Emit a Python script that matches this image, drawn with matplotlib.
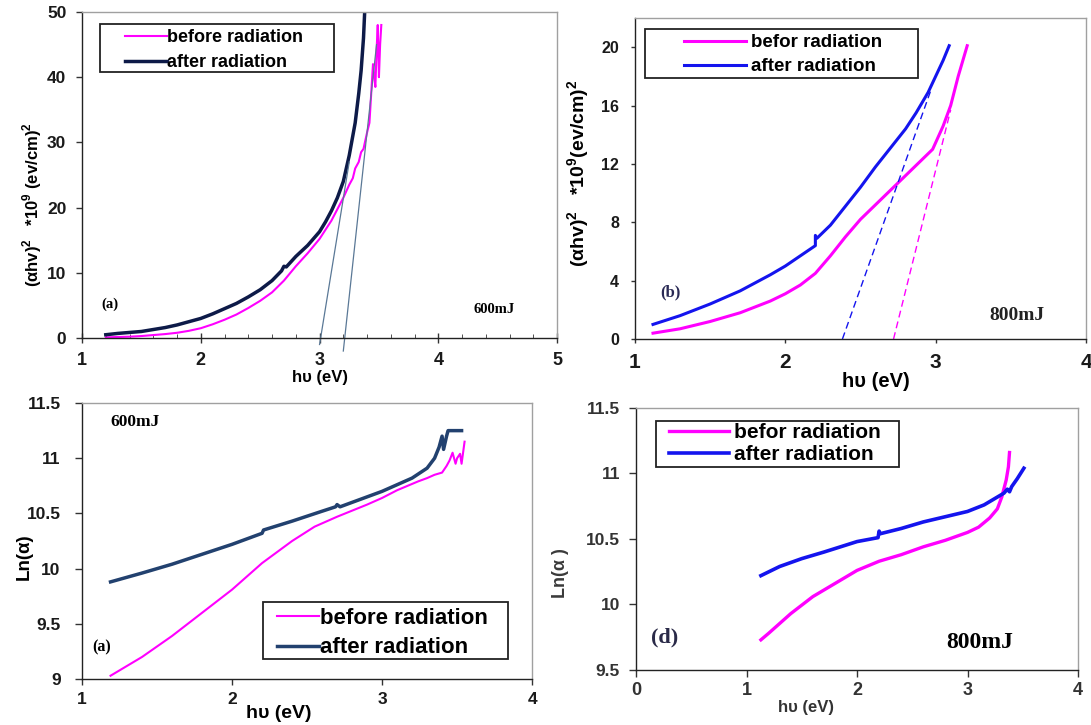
import matplotlib
matplotlib.use('Agg')
import matplotlib.pyplot as plt
from matplotlib.patches import Rectangle

plt.rcParams['font.family'] = ['Liberation Sans', 'DejaVu Sans']
plt.rcParams['mathtext.fontset'] = 'custom'
plt.rcParams['mathtext.rm'] = 'Liberation Sans'
plt.rcParams['mathtext.bf'] = 'Liberation Sans:bold'

# (a) (αhν)^2, 600 mJ
a_before_x = [1.2, 1.3, 1.4, 1.5, 1.6, 1.7, 1.8, 1.9, 2.0, 2.1, 2.2, 2.3, 2.4, 2.5, 2.6, 2.7,
              2.8, 2.9, 3.0, 3.1, 3.2, 3.25, 3.28, 3.3, 3.33, 3.35, 3.37, 3.4, 3.42, 3.43,
              3.45, 3.46, 3.47, 3.48, 3.49, 3.5, 3.51, 3.52]
a_before_y = [0.1, 0.15, 0.2, 0.3, 0.45, 0.6, 0.8, 1.1, 1.5, 2.1, 2.8, 3.6, 4.6, 5.7, 7.0, 8.8,
              11.0, 13.0, 15.2, 18.0, 21.5, 23.5, 24.5, 26.0, 27.0, 28.5, 29.0, 31.5, 33.0, 36.0,
              42.0, 40.0, 38.5, 44.0, 48.0, 40.0, 45.0, 48.0]
a_after_x = [1.2, 1.3, 1.4, 1.5, 1.6, 1.7, 1.8, 1.9, 2.0, 2.1, 2.2, 2.3, 2.4, 2.5, 2.6, 2.68,
             2.7, 2.72, 2.8, 2.9, 3.0, 3.05, 3.1, 3.15, 3.2, 3.25, 3.3, 3.33, 3.35, 3.37, 3.38]
a_after_y = [0.5, 0.7, 0.85, 1.0, 1.3, 1.6, 2.0, 2.5, 3.0, 3.7, 4.5, 5.3, 6.3, 7.4, 8.8, 10.3,
             11.0, 10.9, 12.5, 14.2, 16.3, 17.8, 19.5, 21.5, 24.0, 28.0, 33.0, 37.5, 41.0, 46.0, 50.0]
a_fit1_x = [3.0, 3.25]
a_fit1_y = [-1.0, 27.0]
a_fit2_x = [3.2, 3.48]
a_fit2_y = [-2.0, 45.0]

# (b) (αhν)^2, 800 mJ
b_before_x = [1.12, 1.3, 1.5, 1.7, 1.9, 2.0, 2.1, 2.2, 2.3, 2.4, 2.5, 2.6, 2.7, 2.8, 2.9, 2.98,
              3.05, 3.1, 3.15, 3.21]
b_before_y = [0.4, 0.7, 1.2, 1.8, 2.6, 3.1, 3.7, 4.5, 5.7, 7.0, 8.2, 9.2, 10.2, 11.2, 12.2, 13.0,
              14.6, 16.0, 18.0, 20.1]
b_after_x = [1.12, 1.3, 1.5, 1.7, 1.9, 2.0, 2.1, 2.2, 2.2, 2.21, 2.3, 2.4, 2.5, 2.6, 2.7, 2.8,
             2.87, 2.95, 3.0, 3.05, 3.09]
b_after_y = [1.0, 1.6, 2.4, 3.3, 4.4, 5.0, 5.7, 6.4, 7.1, 6.9, 7.8, 9.1, 10.4, 11.8, 13.1, 14.4,
             15.5, 16.9, 18.0, 19.1, 20.1]
b_fit_after_x = [2.38, 2.97]
b_fit_after_y = [0.0, 17.1]
b_fit_before_x = [2.72, 3.10]
b_fit_before_y = [0.0, 15.7]

# (c) Ln(α), 600 mJ
c_before_x = [1.19, 1.4, 1.6, 1.8, 2.0, 2.2, 2.4, 2.55, 2.7, 2.9, 3.0, 3.1, 3.24, 3.3, 3.35,
              3.4, 3.43, 3.45, 3.47, 3.49, 3.5, 3.52, 3.53, 3.55]
c_before_y = [9.03, 9.2, 9.39, 9.6, 9.81, 10.05, 10.25, 10.38, 10.47, 10.58, 10.64, 10.71, 10.79,
              10.82, 10.85, 10.87, 10.93, 10.98, 11.05, 10.95, 11.0, 11.04, 10.95, 11.15]
c_after_x = [1.19, 1.4, 1.6, 1.8, 2.0, 2.2, 2.21, 2.4, 2.6, 2.69, 2.7, 2.72, 2.9, 3.0, 3.1, 3.2,
             3.3, 3.35, 3.38, 3.40, 3.41, 3.43, 3.44, 3.53]
c_after_y = [9.88, 9.96, 10.04, 10.13, 10.22, 10.32, 10.35, 10.43, 10.52, 10.56, 10.58, 10.56,
             10.65, 10.70, 10.76, 10.82, 10.91, 11.0, 11.1, 11.2, 11.08, 11.2, 11.25, 11.25]

# (d) Ln(α), 800 mJ
d_before_x = [1.13, 1.2, 1.4, 1.6, 1.8, 2.0, 2.2, 2.4, 2.6, 2.8, 3.0, 3.1, 3.2, 3.27, 3.31,
              3.35, 3.37, 3.38]
d_before_y = [9.73, 9.78, 9.93, 10.06, 10.16, 10.26, 10.33, 10.38, 10.44, 10.49, 10.55, 10.59,
              10.66, 10.73, 10.82, 10.95, 11.05, 11.16]
d_after_x = [1.13, 1.3, 1.5, 1.7, 2.0, 2.19, 2.2, 2.21, 2.4, 2.6, 2.8, 3.0, 3.15, 3.25, 3.33,
             3.36, 3.38, 3.4, 3.45, 3.51]
d_after_y = [10.22, 10.29, 10.35, 10.40, 10.48, 10.51, 10.56, 10.54, 10.58, 10.63, 10.67, 10.71,
             10.76, 10.81, 10.85, 10.88, 10.86, 10.9, 10.96, 11.04]

MAG = '#ff00ff'
NAVY = '#0d1a48'
STEEL = '#22416f'
BLUE = '#1414ee'
SERIF = ['Liberation Serif', 'DejaVu Serif']


def frame(ax):
    ax.spines['left'].set_color('#222222')
    ax.spines['bottom'].set_color('#222222')
    ax.spines['top'].set_color('#a0a0a0')
    ax.spines['right'].set_color('#a0a0a0')
    for s in ax.spines.values():
        s.set_linewidth(1.0)
    ax.tick_params(direction='out', width=1, color='#333333')


def ticklabels(ax, xs, ys, color='#1a1a1a'):
    for t in ax.get_xticklabels():
        t.set_fontweight('bold')
        t.set_fontsize(xs)
        t.set_color(color)
    for t in ax.get_yticklabels():
        t.set_fontweight('bold')
        t.set_fontsize(ys)
        t.set_color(color)


def legend(ax, anchor, size, hlen, spacing, box, tpad=0.05):
    # legend entries without frame, plus a box drawn at its own place
    lg = ax.legend(loc='upper left', bbox_to_anchor=anchor, frameon=False, borderpad=0,
                   borderaxespad=0, labelspacing=spacing, handlelength=hlen,
                   handletextpad=tpad, prop={'weight': 'bold', 'size': size})
    ax.add_patch(Rectangle(box[:2], box[2], box[3], transform=ax.transAxes, fill=False,
                           edgecolor='#222222', lw=1.3, zorder=5))
    return lg


fig = plt.figure(figsize=(10.91, 7.25), dpi=100)

# ---------- (a)
ax = fig.add_axes([0.0752, 0.5338, 0.4354, 0.4497])
ax.plot(a_before_x, a_before_y, color=MAG, lw=1.5, label='before radiation')
ax.plot(a_after_x, a_after_y, color=NAVY, lw=2.5, label='after radiation')
ax.plot(a_fit1_x, a_fit1_y, color='#5a7896', lw=0.9, clip_on=False)
ax.plot(a_fit2_x, a_fit2_y, color='#5a7896', lw=0.9, clip_on=False)
ax.set_xlim(1, 5)
ax.set_ylim(0, 50)
ax.set_xticks([1, 2, 3, 4, 5])
ax.set_xticks([1 + 0.2 * i for i in range(21)], minor=True)
ax.set_yticks([0, 10, 20, 30, 40, 50])
frame(ax)
ax.tick_params(axis='y', length=4.3, pad=7)
ax.tick_params(axis='x', which='major', direction='inout', length=6.5, pad=6.5)
ax.tick_params(axis='x', which='minor', direction='in', length=3, color='#333333')
ticklabels(ax, 13, 12.5)
ax.set_xlabel('hυ (eV)', fontsize=12, fontweight='bold')
ax.xaxis.set_label_coords(0.5, -0.098)
ax.set_ylabel(r'(αhv)$^{\mathbf{2}}$   *10$^{\mathbf{9}}$ (ev/cm)$^{\mathbf{2}}$',
              fontsize=12, fontweight='bold')
ax.yaxis.set_label_coords(-0.08, 0.41)
ax.text(1.16, 5.2, '(a)', fontsize=10.5, fontweight='bold', family=SERIF, va='center')
ax.text(4.30, 4.3, '600mJ', fontsize=10.5, fontweight='bold', family=SERIF, va='center')
legend(ax, (0.0905, 0.948), 13, 2.3, 0.45, (0.038, 0.816, 0.4926, 0.147))

# ---------- (b)
ax = fig.add_axes([0.582, 0.5324, 0.4134, 0.4428])
ax.plot(b_before_x, b_before_y, color=MAG, lw=2.2, label='befor radiation')
ax.plot(b_after_x, b_after_y, color=BLUE, lw=2.2, label='after radiation')
ax.plot(b_fit_after_x, b_fit_after_y, color=BLUE, lw=1.0, ls=(0, (5, 3)))
ax.plot(b_fit_before_x, b_fit_before_y, color=MAG, lw=1.0, ls=(0, (5, 3)))
ax.set_xlim(1, 4)
ax.set_ylim(0, 22)
ax.set_xticks([1, 2, 3, 4])
ax.set_yticks([0, 4, 8, 12, 16, 20])
frame(ax)
ax.tick_params(axis='y', length=3, pad=8.5)
ax.tick_params(axis='x', length=3, pad=7)
ticklabels(ax, 15, 11.5)
ax.set_xlabel('hυ (eV)', fontsize=14.5, fontweight='bold')
ax.xaxis.set_label_coords(0.534, -0.103)
ax.set_ylabel(r'(αhv)$^{\mathbf{2}}$   *10$^{\mathbf{9}}$(ev/cm)$^{\mathbf{2}}$',
              fontsize=14, fontweight='bold')
ax.yaxis.set_label_coords(-0.096, 0.517)
ax.text(1.17, 3.2, '(b)', fontsize=12, fontweight='bold', family=SERIF, va='center',
        color='#2a2a55')
ax.text(3.355, 1.64, '800mJ', fontsize=14, fontweight='bold', family=SERIF, va='center',
        color='#222222')
legend(ax, (0.1086, 0.95), 13.5, 3.3, 0.37, (0.022, 0.813, 0.606, 0.153), tpad=0.3)

# ---------- (c)
ax = fig.add_axes([0.0752, 0.0634, 0.4125, 0.3807])
ax.plot(c_before_x, c_before_y, color=MAG, lw=1.5, label='before radiation')
ax.plot(c_after_x, c_after_y, color=STEEL, lw=2.5, label='after radiation')
ax.set_xlim(1, 4)
ax.set_ylim(9, 11.5)
ax.set_xticks([1, 2, 3, 4])
ax.set_yticks([9, 9.5, 10, 10.5, 11, 11.5])
ax.set_yticklabels(['9', '9.5', '10', '10.5', '11', '11.5'])
frame(ax)
ax.tick_params(axis='y', length=5, pad=10.5)
ax.tick_params(axis='x', length=4.3, pad=5)
ticklabels(ax, 12.5, 12.5)
ax.set_xlabel('hυ (eV)', fontsize=14, fontweight='bold')
ax.xaxis.set_label_coords(0.438, -0.094)
ax.set_ylabel('Ln(α)', fontsize=13.5, fontweight='bold')
ax.yaxis.set_label_coords(-0.109, 0.442)
ax.text(1.19, 11.33, '600mJ', fontsize=12.5, fontweight='bold', family=SERIF, va='center')
ax.text(1.07, 9.29, '(a)', fontsize=11.5, fontweight='bold', family=SERIF, va='center')
legend(ax, (0.433, 0.259), 16, 1.9, 0.4, (0.402, 0.0725, 0.544, 0.2065))

# ---------- (d)
ax = fig.add_axes([0.583, 0.0759, 0.4051, 0.3614])
ax.plot(d_before_x, d_before_y, color=MAG, lw=2.4, label='befor radiation')
ax.plot(d_after_x, d_after_y, color=BLUE, lw=2.6, label='after radiation')
ax.set_xlim(0, 4)
ax.set_ylim(9.5, 11.5)
ax.set_xticks([0, 1, 2, 3, 4])
ax.set_yticks([9.5, 10, 10.5, 11, 11.5])
ax.set_yticklabels(['9.5', '10', '10.5', '11', '11.5'])
frame(ax)
ax.tick_params(axis='y', length=5, pad=6.5)
ax.tick_params(axis='x', length=5, pad=3.6)
ticklabels(ax, 13, 12.5, color='#333333')
ax.set_xlabel('hυ (eV)', fontsize=12, fontweight='bold', color='#333333')
ax.xaxis.set_label_coords(0.385, -0.115)
ax.set_ylabel('Ln(α )', fontsize=13, fontweight='semibold', color='#3a3a3a')
ax.yaxis.set_label_coords(-0.152, 0.37)
ax.text(0.136, 9.75, '(d)', fontsize=16, fontweight='bold', family=SERIF, va='center',
        color='#2a2a48')
ax.text(2.81, 9.71, '800mJ', fontsize=17, fontweight='bold', family=SERIF, va='center')
legend(ax, (0.0747, 0.943), 15, 2.9, 0.15, (0.045, 0.775, 0.55, 0.1756), tpad=0.2)

fig.savefig('out.png', dpi=100, facecolor='white')
